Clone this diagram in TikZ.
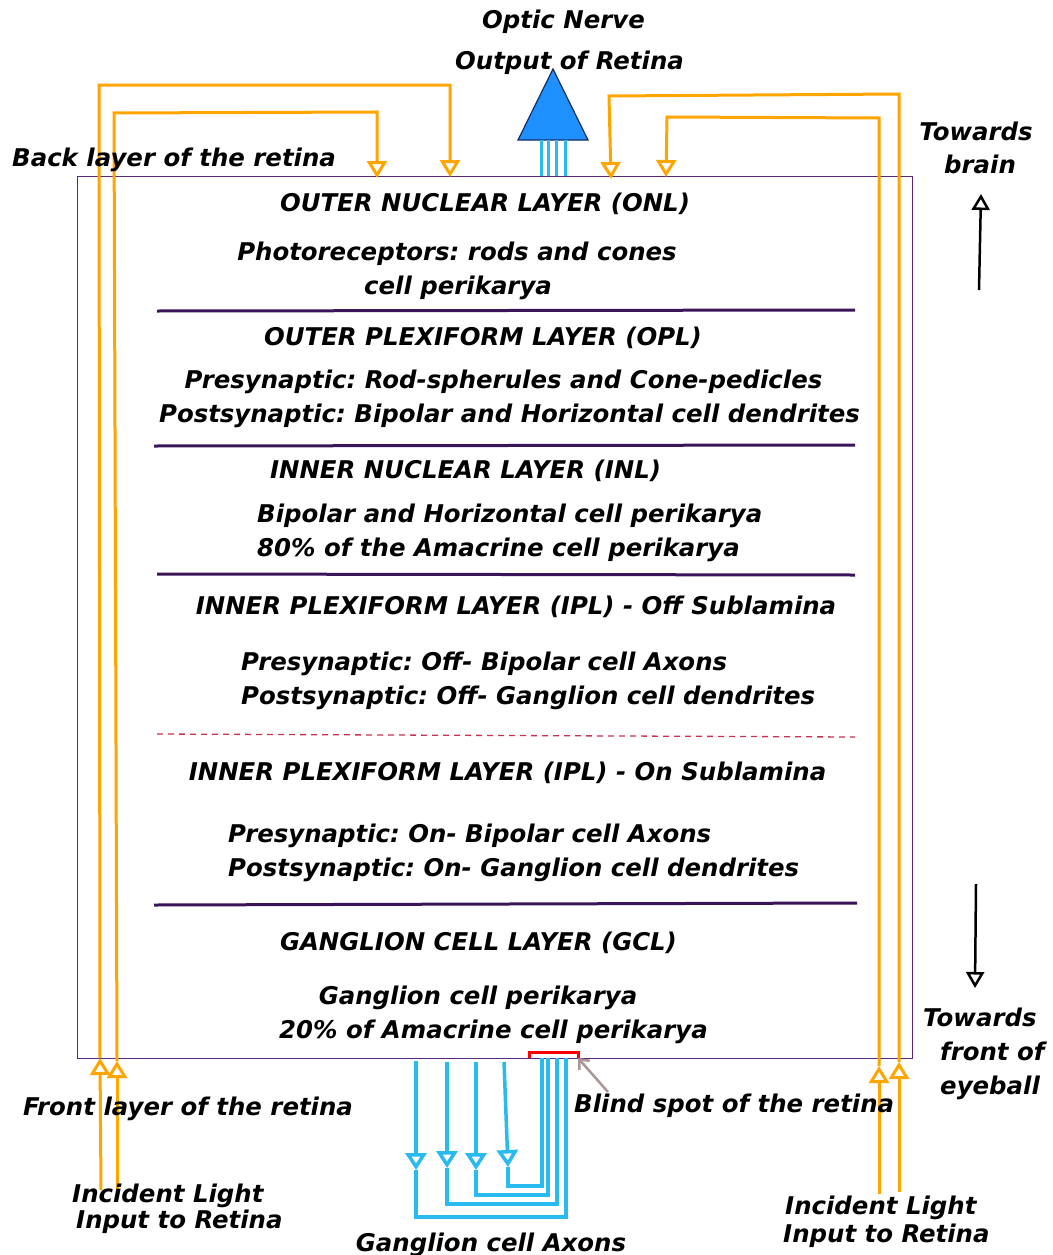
\documentclass[tikz,border=0pt]{standalone}
\usepackage{fontspec}
\setmainfont{DejaVu Sans}
\usetikzlibrary{arrows.meta}
\definecolor{lightor}{RGB}{255,165,0}
\definecolor{axon}{RGB}{41,186,240}
\definecolor{nerve}{RGB}{30,144,255}
\definecolor{frame}{RGB}{88,40,125}
\definecolor{sep}{RGB}{58,20,88}
\definecolor{subl}{RGB}{200,50,80}
\definecolor{pointer}{RGB}{170,150,150}
\frenchspacing
\begin{document}
\begin{tikzpicture}[x=1pt,y=-1pt,
  lbl/.style={font=\fontsize{24.4}{28}\selectfont\bfseries\itshape, inner sep=0pt, anchor=base},
  lblw/.style={lbl, anchor=base west},
  ray/.style={draw=lightor, line width=3pt, line join=miter},
  raytip/.style={-{Triangle[open,fill=white,length=17pt,width=20pt]}},
  axonline/.style={draw=axon, line width=3.5pt},
  axontip/.style={-{Triangle[open,fill=white,length=17pt,width=21pt]}},
  dirline/.style={draw=black, line width=2.5pt, -{Triangle[open,fill=white,length=16pt,width=18pt]}},
  layersep/.style={draw=sep, line width=3pt},
]
\useasboundingbox (0,0) rectangle (1052,1255);

% retina block
\draw[frame, line width=1pt] (77,176) rectangle (912,1058);

% layer boundaries
\draw[layersep] (157,311) -- (855,310);
\draw[layersep] (154,446) -- (855,445);
\draw[layersep] (157,574) -- (855,575);
\draw[subl, line width=1.3pt, dash pattern=on 6pt off 5pt] (157,734) -- (855,737);
\draw[layersep] (154,905) -- (857,903);

% optic nerve head
\coordinate (head) at (553,69);
\filldraw[fill=nerve, draw={rgb,255:red,20;green,45;blue,95}, line width=1.2pt, line join=miter]
  (head) -- (518,140) -- (588,140) -- cycle;
\foreach \x in {541,548,556,565} \draw[axonline, line width=3pt] (\x,140) -- (\x,176);

% incident light, left side
\coordinate (L1a) at (101,1190);  \coordinate (L1b) at (100,1058);
\coordinate (L1c) at (99,85);     \coordinate (L1d) at (450,85);  \coordinate (L1e) at (450,177);
\coordinate (L2a) at (117,1190);  \coordinate (L2b) at (117,1061);
\coordinate (L2c) at (114,113);   \coordinate (L2d) at (377,112); \coordinate (L2e) at (377,178);
\draw[ray, raytip] (L1a) -- (L1b);
\draw[ray, raytip] (L1b) -- (L1c) -- (L1d) -- (L1e);
\draw[ray, raytip] (L2a) -- (L2b);
\draw[ray, raytip] (L2b) -- (L2c) -- (L2d) -- (L2e);

% incident light, right side
\coordinate (R1a) at (899,1192);  \coordinate (R1b) at (899,1062);
\coordinate (R1c) at (899,94);    \coordinate (R1d) at (609,96);  \coordinate (R1e) at (611,179);
\coordinate (R2a) at (879,1194);  \coordinate (R2b) at (879,1066);
\coordinate (R2c) at (879,118);   \coordinate (R2d) at (667,117); \coordinate (R2e) at (666,177);
\draw[ray, raytip] (R1a) -- (R1b);
\draw[ray, raytip] (R1b) -- (R1c) -- (R1d) -- (R1e);
\draw[ray, raytip] (R2a) -- (R2b);
\draw[ray, raytip] (R2b) -- (R2c) -- (R2d) -- (R2e);

% direction arrows
\coordinate (b0) at (979,290); \coordinate (b1) at (981,194);
\coordinate (f0) at (976,884); \coordinate (f1) at (975,988);
\draw[dirline] (b0) -- (b1);
\draw[dirline] (f0) -- (f1);

% ganglion cell axons leaving through the blind spot
\coordinate (A1) at (416,1061); \coordinate (A1t) at (416,1170);
\coordinate (A2) at (447,1062); \coordinate (A2t) at (447,1168);
\coordinate (A3) at (476,1062); \coordinate (A3t) at (476,1170);
\coordinate (A4) at (504,1062); \coordinate (A4t) at (508,1167);
\draw[axonline, axontip] (A1) -- (A1t);
\draw[axonline, axontip] (A2) -- (A2t);
\draw[axonline, axontip] (A3) -- (A3t);
\draw[axonline, axontip] (A4) -- (A4t);
\draw[axonline] (A1t) -- (416,1217) -- (566,1217) -- (566,1058);
\draw[axonline] (A2t) -- (447,1204) -- (557,1204) -- (557,1058);
\draw[axonline] (A3t) -- (476,1195) -- (548,1195) -- (548,1058);
\draw[axonline] (A4t) -- (508,1186) -- (542,1186) -- (542,1058);

% blind spot marker and pointer
\draw[red, line width=3pt] (529,1058) -- (529,1052) -- (578,1052) -- (578,1058);
\coordinate (bsp) at (608,1092); \coordinate (bst) at (578,1058);
\draw[pointer, line width=2.5pt, -{Straight Barb[length=8pt,width=14pt]}] (bsp) -- (bst);

% layer texts
\node[lbl] (onl) at (485,211) {OUTER NUCLEAR LAYER (ONL)};
\node[lbl] (onl1) at (457,260) {Photoreceptors: rods and cones};
\node[lbl] (onl2) at (458,294) {cell perikarya};
\node[lbl] (opl) at (483,345) {OUTER PLEXIFORM LAYER (OPL)};
\node[lbl] (opl1) at (503.5,388) {Presynaptic: Rod-spherules and Cone-pedicles};
\node[lbl] (opl2) at (509.5,422) {Postsynaptic: Bipolar and Horizontal cell dendrites};
\node[lbl] (inl) at (465.5,478) {INNER NUCLEAR LAYER (INL)};
\node[lblw] (inl1) at (257,522) {Bipolar and Horizontal cell perikarya};
\node[lblw] (inl2) at (257,556) {80\% of the Amacrine cell perikarya};
\node[lbl] (ipoff) at (516,614) {INNER PLEXIFORM LAYER (IPL) - Off Sublamina};
\node[lblw] (ipoff1) at (241,670) {Presynaptic: Off- Bipolar cell Axons};
\node[lblw] (ipoff2) at (241,704) {Postsynaptic: Off- Ganglion cell dendrites};
\node[lbl] (ipon) at (507.5,780) {INNER PLEXIFORM LAYER (IPL) - On Sublamina};
\node[lblw] (ipon1) at (228,842) {Presynaptic: On- Bipolar cell Axons};
\node[lblw] (ipon2) at (228,876) {Postsynaptic: On- Ganglion cell dendrites};
\node[lbl] (gcl) at (478.5,950) {GANGLION CELL LAYER (GCL)};
\node[lbl] (gcl1) at (478,1004) {Ganglion cell perikarya};
\node[lbl] (gcl2) at (493.5,1038) {20\% of Amacrine cell perikarya};

% outside labels
\node[lbl] (optic) at (563.5,29) {Optic Nerve};
\node[lbl] (output) at (569.5,70) {Output of Retina};
\node[lblw] (back) at (12,166) {Back layer of the retina};
\node[lbl] (tw1) at (976,140) {Towards};
\node[lbl] (tw2) at (980,173) {brain};
\node[lblw] (tf1) at (923,1026) {Towards};
\node[lblw] (tf2) at (940,1060) {front of};
\node[lblw] (tf3) at (940,1094) {eyeball};
\node[lblw] (front) at (23,1115) {Front layer of the retina};
\node[lblw] (blind) at (574,1112) {Blind spot of the retina};
\node[lblw] (inL1) at (72,1202) {Incident Light};
\node[lblw] (inL2) at (76,1228) {Input to Retina};
\node[lblw] (inR1) at (785,1214) {Incident Light};
\node[lblw] (inR2) at (783,1242) {Input to Retina};
\node[lbl] (gax) at (491,1251) {Ganglion cell Axons};
\end{tikzpicture}
\end{document}
